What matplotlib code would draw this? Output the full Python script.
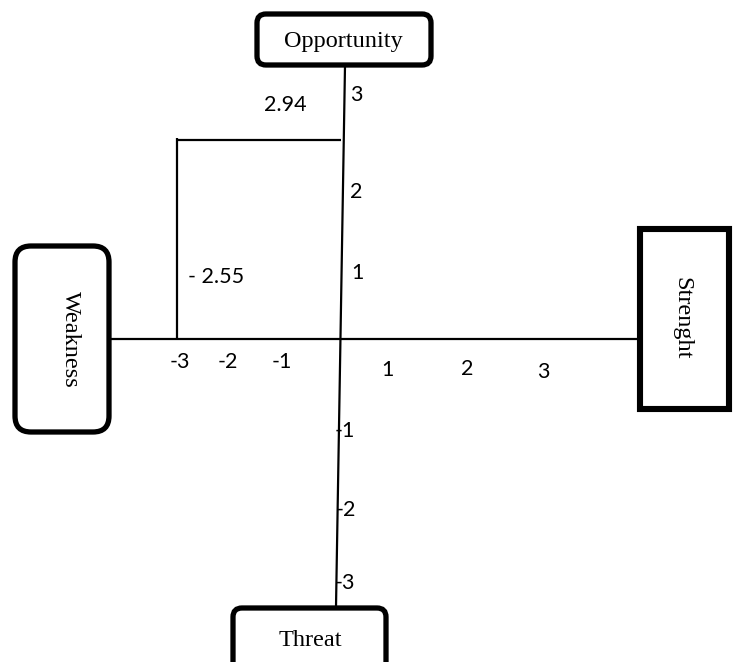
import matplotlib
matplotlib.use("Agg")
import matplotlib.pyplot as plt
from matplotlib.patches import FancyBboxPatch, Rectangle

# ---- data ----
quadrants = ["Opportunity", "Weakness", "Strenght", "Threat"]
x_tick_labels = ["-3", "-2", "-1", "1", "2", "3"]
y_tick_labels = ["3", "2", "1", "-1", "-2", "-3"]
point_x = -2.55   # Weakness - Strength score
point_y = 2.94    # Opportunity - Threat score

# ---- layout (pixels) ----
W, H = 733, 662
ORIG_X, ORIG_Y = 340.5, 339.0
PX_PER_X, PX_PER_Y = 64.1, 67.7

fig = plt.figure(figsize=(W / 100, H / 100), dpi=100)
fig.patch.set_facecolor("white")

# decoration axes in pixel coordinates
deco = fig.add_axes([0, 0, 1, 1])
deco.set_xlim(0, W)
deco.set_ylim(H, 0)
deco.axis("off")

# data axes sharing the same area, in data units
ax = fig.add_axes([0, 0, 1, 1])
ax.set_xlim((0 - ORIG_X) / PX_PER_X, (W - ORIG_X) / PX_PER_X)
ax.set_ylim((ORIG_Y - H) / PX_PER_Y, ORIG_Y / PX_PER_Y)
ax.axis("off")
ax.patch.set_alpha(0)

serif = ["Liberation Serif", "DejaVu Serif"]
sans = ["Lato", "DejaVu Sans"]
box_lw = 3.8
axis_lw = 1.6
serif_fs = 17.5
sans_fs = 15.5

# axes lines (hand-drawn cross)
deco.plot([111, 638], [ORIG_Y, ORIG_Y], color="black", lw=axis_lw, solid_capstyle="butt")
deco.plot([345, 336], [66, 607], color="black", lw=axis_lw, solid_capstyle="butt")

# boxes
def rbox(x0, y0, x1, y1, r):
    p = FancyBboxPatch((x0, y0), x1 - x0, y1 - y0,
                       boxstyle=f"round,pad=0,rounding_size={r}",
                       fc="white", ec="black", lw=box_lw, zorder=3)
    deco.add_patch(p)

rbox(257, 14, 431, 65, 9)       # Opportunity
rbox(15, 246, 109, 432, 16)     # Weakness
rbox(233, 608, 386, 672, 9)     # Threat
deco.add_patch(Rectangle((640, 229), 89, 180, fc="white", ec="black",
                         lw=box_lw + 0.6, zorder=3, joinstyle="miter"))  # Strength

deco.text(343, 41, quadrants[0], family=serif, fontsize=serif_fs, ha="center", va="center", zorder=4)
deco.text(70, 339, quadrants[1], family=serif, fontsize=serif_fs, ha="center", va="center",
          rotation=-90, zorder=4)
deco.text(682, 318, quadrants[2], family=serif, fontsize=serif_fs, ha="center", va="center",
          rotation=-90, zorder=4)
deco.text(310, 640, quadrants[3], family=serif, fontsize=serif_fs, ha="center", va="center", zorder=4)

# tick labels (hand-placed)
x_label_pos = [(180, 362), (228, 362), (282, 362), (387, 370), (467, 369), (543, 372)]
y_label_pos = [(356, 95), (356, 192), (357, 273), (345, 431), (346, 510), (345, 583)]
for lab, (px, py) in zip(x_tick_labels, x_label_pos):
    deco.text(px, py, lab, family=sans, fontsize=sans_fs, ha="center", va="center")
for lab, (px, py) in zip(y_tick_labels, y_label_pos):
    deco.text(px, py, lab, family=sans, fontsize=sans_fs, ha="center", va="center")

# the position of the strategy point
ax.plot([point_x, point_x], [0, point_y + 0.03], color="black", lw=axis_lw, solid_capstyle="butt")
ax.plot([point_x, 0], [point_y, point_y], color="black", lw=axis_lw, solid_capstyle="butt")

deco.text(285, 105, f"{point_y:.2f}", family=sans, fontsize=sans_fs, ha="center", va="center")
deco.text(216, 277, f"- {abs(point_x):.2f}", family=sans, fontsize=sans_fs, ha="center", va="center")

fig.savefig("out.png", dpi=100, facecolor="white")
